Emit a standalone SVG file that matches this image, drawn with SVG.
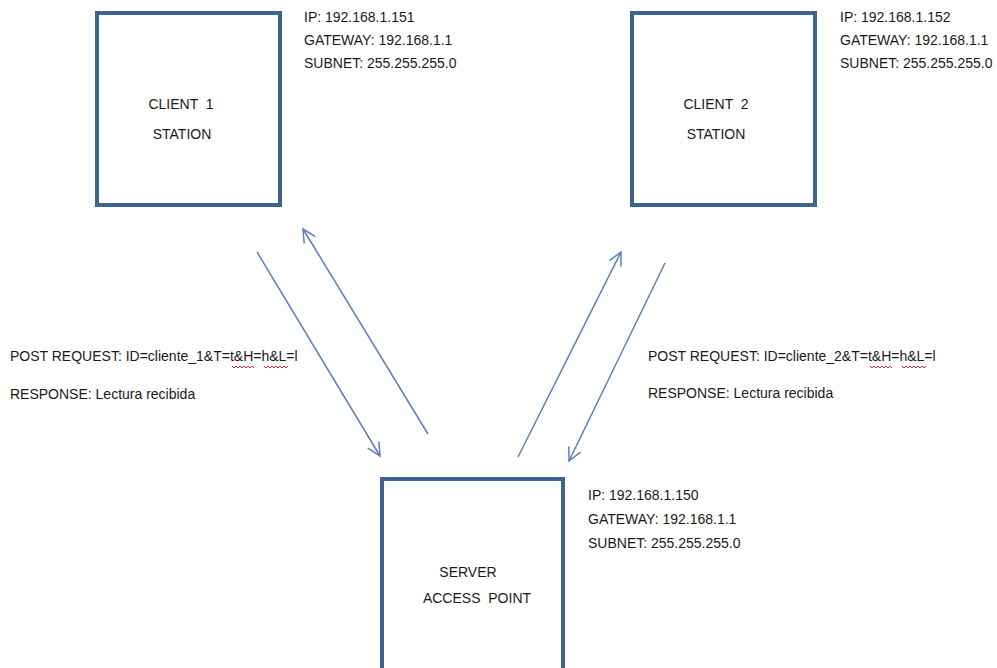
<svg xmlns="http://www.w3.org/2000/svg" width="997" height="668" viewBox="0 0 997 668">
<style>
  .box { fill: #ffffff; stroke: #3f6391; stroke-width: 4; }
  .lbl { font-family: "Liberation Sans", Arial, sans-serif; font-size: 14px; fill: #1a1a1a; }
  .mid { text-anchor: middle; }
  .conn { stroke: #5b80b8; stroke-width: 1.5; fill: none; }
  .sq { stroke: #d03030; stroke-width: 1; fill: none; }
</style>
<defs>
  <marker id="arr" markerUnits="userSpaceOnUse" markerWidth="20" markerHeight="20" refX="0" refY="0" viewBox="-15 -10 20 20" orient="auto" overflow="visible">
    <path d="M-13,-6.5 L0,0 L-13,6.5" stroke="#5b80b8" stroke-width="1.5" fill="none"/>
  </marker>
</defs>
<rect width="997" height="668" fill="#ffffff"/>

<g id="client1">
  <rect class="box" x="97" y="13" width="183" height="192"/>
  <text class="lbl mid" x="181" y="109" xml:space="preserve">CLIENT  1</text>
  <text class="lbl mid" x="182" y="139">STATION</text>
  <text class="lbl" x="304" y="22">IP: 192.168.1.151</text>
  <text class="lbl" x="304" y="45">GATEWAY: 192.168.1.1</text>
  <text class="lbl" x="304" y="68">SUBNET: 255.255.255.0</text>
</g>

<g id="client2">
  <rect class="box" x="632" y="13" width="183" height="192"/>
  <text class="lbl mid" x="716" y="109" xml:space="preserve">CLIENT  2</text>
  <text class="lbl mid" x="716" y="139">STATION</text>
  <text class="lbl" x="840" y="22">IP: 192.168.1.152</text>
  <text class="lbl" x="840" y="45">GATEWAY: 192.168.1.1</text>
  <text class="lbl" x="840" y="68">SUBNET: 255.255.255.0</text>
</g>

<g id="server">
  <rect class="box" x="382" y="479" width="181" height="200"/>
  <text class="lbl mid" x="468" y="577">SERVER</text>
  <text class="lbl mid" x="477" y="603" xml:space="preserve">ACCESS  POINT</text>
  <text class="lbl" x="588" y="500">IP: 192.168.1.150</text>
  <text class="lbl" x="588" y="524">GATEWAY: 192.168.1.1</text>
  <text class="lbl" x="588" y="548">SUBNET: 255.255.255.0</text>
</g>

<g id="connectors">
  <line class="conn" x1="257" y1="252" x2="380" y2="456" marker-end="url(#arr)"/>
  <line class="conn" x1="428" y1="434" x2="303" y2="229" marker-end="url(#arr)"/>
  <line class="conn" x1="518" y1="457" x2="621" y2="252" marker-end="url(#arr)"/>
  <line class="conn" x1="665" y1="263" x2="569" y2="461" marker-end="url(#arr)"/>
</g>

<g id="label-client1">
  <text class="lbl" x="10" y="361">POST REQUEST: ID=cliente_1&amp;T=t&amp;H=h&amp;L=l</text>
  <text class="lbl" x="10" y="399">RESPONSE: Lectura recibida</text>
  <path class="sq" d="M232,366 l2,2 l2,-2 l2,2 l2,-2 l2,2 l2,-2 l2,2 l2,-2 l2,2 l2,-2 l2,2 M264,366 l2,2 l2,-2 l2,2 l2,-2 l2,2 l2,-2 l2,2 l2,-2 l2,2 l2,-2 l2,2 l2,-2"/>
</g>

<g id="label-client2">
  <text class="lbl" x="648" y="361">POST REQUEST: ID=cliente_2&amp;T=t&amp;H=h&amp;L=l</text>
  <text class="lbl" x="648" y="398">RESPONSE: Lectura recibida</text>
  <path class="sq" d="M870,366 l2,2 l2,-2 l2,2 l2,-2 l2,2 l2,-2 l2,2 l2,-2 l2,2 l2,-2 l2,2 M902,366 l2,2 l2,-2 l2,2 l2,-2 l2,2 l2,-2 l2,2 l2,-2 l2,2 l2,-2 l2,2 l2,-2"/>
</g>
</svg>
